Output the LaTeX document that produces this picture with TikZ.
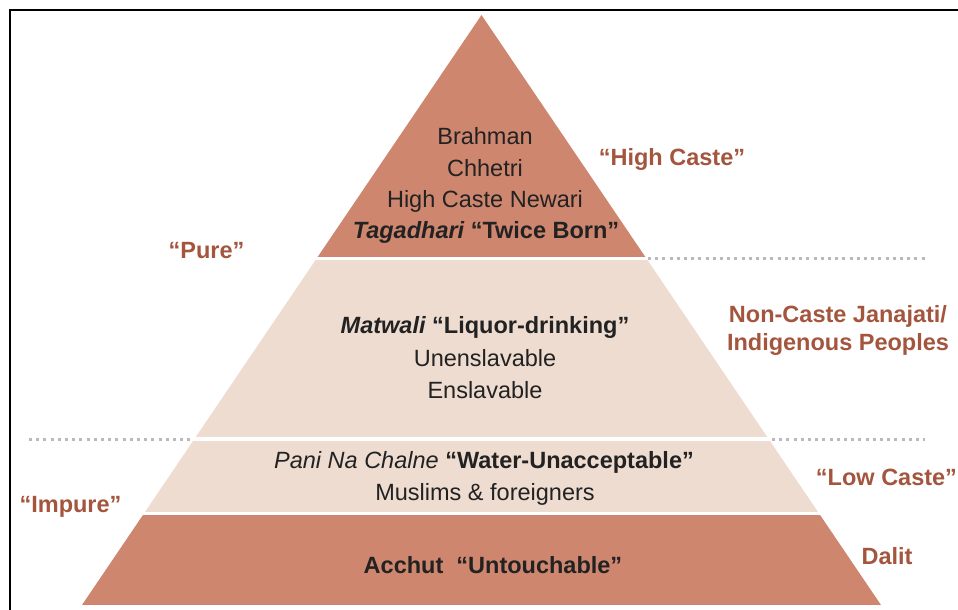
\documentclass[tikz,border=0pt]{standalone}
\usepackage{fontspec}
\setmainfont{Liberation Sans}
\definecolor{tierdark}{HTML}{CF866F}
\definecolor{tierlight}{HTML}{EEDCD0}
\definecolor{lblbrown}{HTML}{A4553E}
\definecolor{txtdark}{HTML}{222222}
\definecolor{dotgray}{HTML}{B9B9BE}
\begin{document}
\begin{tikzpicture}[x=1pt,y=-1pt,
  txt/.style={anchor=base, inner sep=0pt, text=txtdark, font=\fontsize{23.5}{28}\selectfont},
  lbl/.style={anchor=base, inner sep=0pt, text=lblbrown, font=\fontsize{23.5}{28}\selectfont\bfseries},
  dotline/.style={draw=dotgray, line width=3pt, dash pattern=on 3pt off 4.2pt}]
\useasboundingbox (0,0) rectangle (958,610);
\fill[white] (0,0) rectangle (958,610);
% pyramid tiers
\begin{scope}
  \clip (481.5,15) -- (881,605) -- (82,605) -- cycle;
  \fill[tierdark]  (0,0)   rectangle (958,257);
  \fill[tierlight] (0,260) rectangle (958,437);
  \fill[tierlight] (0,441) rectangle (958,512);
  \fill[tierdark]  (0,515) rectangle (958,605);
\end{scope}
% frame
\draw[line width=2pt] (10,610) -- (10,10) -- (958,10);
% dotted separators
\coordinate (d1a) at (648,258);
\coordinate (d1b) at (925,258);
\coordinate (d2a) at (29,439);
\coordinate (d2b) at (190,439);
\coordinate (d3a) at (772,439);
\coordinate (d3b) at (925,439);
\draw[dotline] (d1a) -- (d1b);
\draw[dotline] (d2a) -- (d2b);
\draw[dotline] (d3a) -- (d3b);
% tier 1
\node[txt] (t1a) at (485,144) {Brahman};
\node[txt] (t1b) at (485,176) {Chhetri};
\node[txt] (t1c) at (485,207) {High Caste Newari};
\node[txt] (t1d) at (486,238) {\bfseries\itshape Tagadhari\upshape{} “Twice Born”};
% tier 2
\node[txt] (t2a) at (485,333) {\bfseries\itshape Matwali\upshape{} “Liquor-drinking”};
\node[txt] (t2b) at (485,366) {Unenslavable};
\node[txt] (t2c) at (485,398) {Enslavable};
% tier 3
\node[txt] (t3a) at (484,468) {\itshape Pani Na Chalne\upshape{} \bfseries “Water-Unacceptable”};
\node[txt] (t3b) at (485,500) {Muslims \& foreigners};
% tier 4
\node[txt] (t4a) at (493,573) {\bfseries Acchut\ \ “Untouchable”};
% side labels
\node[lbl] (hc) at (672,165) {“High Caste”};
\node[lbl] (pure) at (206.5,258) {“Pure”};
\node[lbl] (nc1) at (838,322) {Non-Caste Janajati/};
\node[lbl] (nc2) at (838,350) {Indigenous Peoples};
\node[lbl] (imp) at (70.5,512) {“Impure”};
\node[lbl] (lc) at (886.5,485) {“Low Caste”};
\node[lbl] (dal) at (887,564) {Dalit};
\end{tikzpicture}
\end{document}
